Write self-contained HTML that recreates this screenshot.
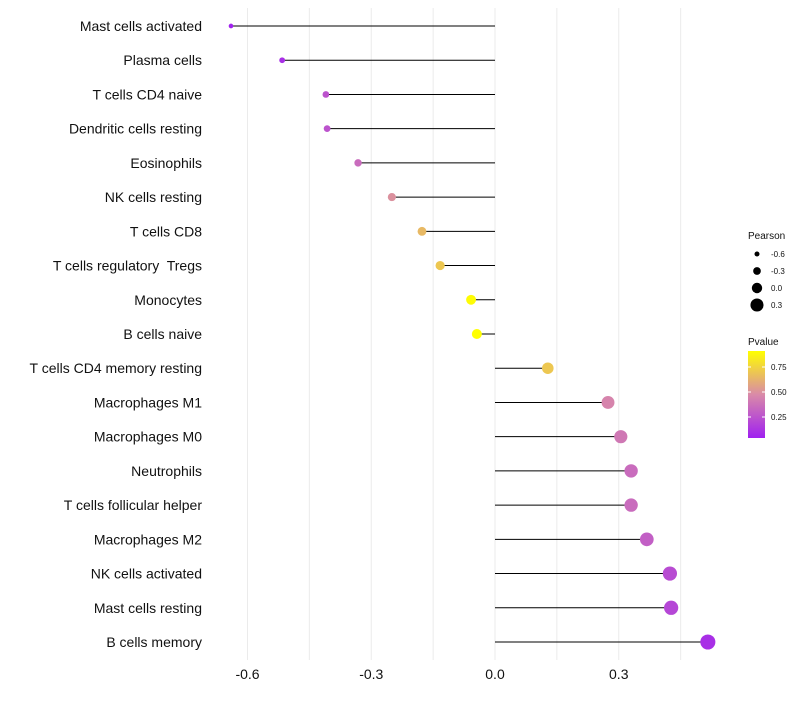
<!DOCTYPE html>
<html><head><meta charset="utf-8"><style>
body{margin:0;background:#fff;font-family:"Liberation Sans",sans-serif}
text{white-space:pre}
</style></head><body>
<svg id="c" width="800" height="700" xmlns="http://www.w3.org/2000/svg"></svg>
<script>
const categories=["Mast cells activated","Plasma cells","T cells CD4 naive","Dendritic cells resting","Eosinophils","NK cells resting","T cells CD8","T cells regulatory  Tregs","Monocytes","B cells naive","T cells CD4 memory resting","Macrophages M1","Macrophages M0","Neutrophils","T cells follicular helper","Macrophages M2","NK cells activated","Mast cells resting","B cells memory"];
const pearson=[-0.64,-0.516,-0.41,-0.407,-0.332,-0.25,-0.177,-0.133,-0.058,-0.044,0.128,0.274,0.305,0.33,0.33,0.368,0.424,0.427,0.516];
const pvalues=[0.05,0.1,0.25,0.25,0.35,0.5,0.65,0.7,0.9,0.92,0.7,0.45,0.4,0.35,0.35,0.3,0.22,0.2,0.1];
const xTicks=[-0.6,-0.3,0.0,0.3];
const xTickLabels=["-0.6","-0.3","0.0","0.3"];
const sizeLegend=[-0.6,-0.3,0.0,0.3];
const colorTicks=[0.25,0.5,0.75];
const svg=document.getElementById('c');const NS="http://www.w3.org/2000/svg";
function el(t,a,p){const e=document.createElementNS(NS,t);for(const k in a)e.setAttribute(k,a[k]);(p||svg).appendChild(e);return e;}
const x=v=>495+v*412.5;
const y=i=>26+i*(616/18);
const r=v=>Math.max(1.6,5.2+4.5*v);
function col(p){const lo=0.04,hi=0.91;let t=Math.min(1,Math.max(0,(p-lo)/(hi-lo)));
const a=[160,32,240],m=[217,138,168],b=[255,255,0];let c;
if(t<0.5){const s=t/0.5;c=a.map((v,k)=>Math.round(v+(m[k]-v)*s));}else{const s=(t-0.5)/0.5;c=m.map((v,k)=>Math.round(v+(b[k]-v)*s));}
return `rgb(${c})`;}
for(const v of [-0.45,-0.15,0.15,0.45,-0.6,-0.3,0,0.3]){const g=el('line',{x1:x(v),x2:x(v),y1:8,y2:660,stroke:'#ebebeb','stroke-width':1});
}
xTicks.forEach((v,i)=>{const t=el('text',{x:x(v),y:679,'text-anchor':'middle','font-size':14,fill:'#111'});t.textContent=xTickLabels[i];
});
categories.forEach((c,i)=>{
const t=el('text',{x:202,y:y(i)+5,'text-anchor':'end','font-size':14,fill:'#111'});t.textContent=c;

const l=el('line',{x1:x(0),x2:x(pearson[i]),y1:y(i),y2:y(i),stroke:'#000','stroke-width':1});

const d=el('circle',{cx:x(pearson[i]),cy:y(i),r:r(pearson[i]),fill:col(pvalues[i])});

});
const lt=el('text',{x:748,y:239,'font-size':10,fill:'#111'});lt.textContent='Pearson';

sizeLegend.forEach((v,i)=>{const cy=254+i*17;
const c=el('circle',{cx:757,cy:cy,r:r(v),fill:'#000'});
const t=el('text',{x:771,y:cy+3,'font-size':8,fill:'#111'});t.textContent=['-0.6','-0.3','0.0','0.3'][i];
});
const pt=el('text',{x:748,y:345,'font-size':10,fill:'#111'});pt.textContent='Pvalue';

const defs=el('defs',{});const gr=el('linearGradient',{id:'g',x1:0,y1:1,x2:0,y2:0},defs);
[[0,'rgb(160,32,240)'],[0.5,'rgb(217,138,168)'],[1,'rgb(255,255,0)']].forEach(s=>el('stop',{offset:s[0],'stop-color':s[1]},gr));
const cb=el('rect',{x:748,y:351,width:17,height:87,fill:'url(#g)'});
colorTicks.forEach(v=>{const cy=438-(v-0.04)/(0.87)*87;
el('line',{x1:748,x2:751,y1:cy,y2:cy,stroke:'#fff'});el('line',{x1:762,x2:765,y1:cy,y2:cy,stroke:'#fff'});
const t=el('text',{x:771,y:cy+3,'font-size':8,fill:'#111'});t.textContent=v.toFixed(2);
});
</script>
</body></html>
